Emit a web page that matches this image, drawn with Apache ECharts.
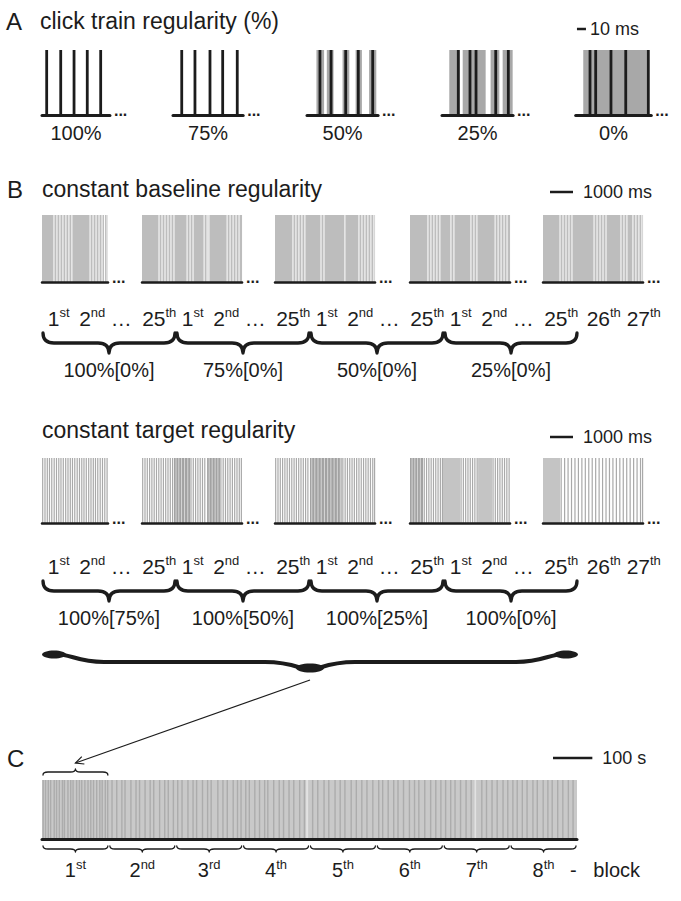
<!DOCTYPE html>
<html>
<head>
<meta charset="utf-8">
<script src="https://cdn.jsdelivr.net/npm/echarts@6/dist/echarts.min.js"></script>
<style>html,body{margin:0;padding:0;background:#fff}#c{width:681px;height:901px}</style>
</head>
<body>
<div id="c"></div>
<script>
// ================= DATA =================
// Panel A – five-click trains (times in ms), grey = jitter windows (ms)
const aLabels = ['100%', '75%', '50%', '25%', '0%'];
const aDurMs = [75.5, 78, 79, 79, 84];
const aClicks100 = [5.2, 20.8, 35.6, 50.3, 65.2];
const aClicks75 = [9.7, 24.4, 41.1, 55.2, 71.4];
const aClicks50 = [14.4, 26.7, 43.0, 57.0, 73.0];
const aClicks25 = [18.1, 31.1, 37.8, 59.7, 73.7];
const aClicks0 = [15.9, 22.2, 39.2, 55.6, 80.7];
const aJitter100 = [];
const aJitter75 = [];
const aJitter50 = [[10.5, 19], [22, 29.5], [39.5, 47], [54, 61], [69, 77]];
const aJitter25 = [[8.1, 20], [23, 48.5], [54, 63.7], [67.4, 78.5]];
const aJitter0 = [[8.4, 80.7]];
const aScaleMs = 10;

// Panel B – trials (ms)
const bTrialDurMs = [2870, 4350, 4350, 4350, 4350];
// constant baseline regularity: white gaps between dense grey clicks (ms)
const bBaseGaps1 = [520, 650, 780, 910, 1040, 1170, 1300, 2090, 2220, 2350, 2480, 2610, 2720, 2830];
const bBaseGaps2 = [740, 870, 1000, 1130, 1260, 1390, 1960, 2090, 2220, 2700, 2830, 2910, 3700, 3830, 3960, 4090, 4220];
const bBaseGaps3 = [780, 910, 1040, 1170, 1300, 2000, 2130, 3040, 3650, 3780, 3910, 4040, 4170, 4300];
const bBaseGaps4 = [780, 910, 1040, 1170, 1300, 1780, 1910, 2650, 2780, 2910, 3700, 3830, 3960, 4090, 4220];
const bBaseGaps5 = [740, 870, 1000, 1130, 1260, 2220, 2350, 2480, 2610, 2740, 3390, 3520, 3650, 3910, 4040, 4170, 4300];
// constant target regularity: single clicks, dense click clusters, merged click regions (ms)
const bTargetClicks1 = [30, 130, 230, 325, 425, 530, 630, 730, 825, 925, 1030, 1130, 1230, 1325, 1425, 1530, 1630, 1730, 1825, 1925, 2030, 2130, 2230, 2325, 2425, 2530, 2630, 2730, 2830];
const bTargetClicks2 = [30, 130, 230, 330, 430, 530, 630, 730, 830, 930, 1030, 1130, 1230, 1330, 2130, 2230, 2330, 2430, 2530, 2630, 2730, 3430, 3530, 3630, 3730, 3830, 3930, 4030, 4130, 4230, 4320];
const bTargetClicks3 = [30, 130, 230, 330, 430, 530, 630, 730, 830, 930, 1030, 1130, 1230, 1330, 1430, 2950, 3050, 3150, 3250, 3350, 3450, 3550, 3650, 3750, 3850, 3950, 4050, 4150, 4250, 4330];
const bTargetClicks4 = [620, 720, 820, 920, 1020, 1120, 1220, 1320, 1410, 2220, 2320, 2420, 2520, 2620, 2720, 2820, 2920, 3610, 3710, 3810, 3910, 4010, 4110, 4210, 4310];
const bTargetClicks5 = [790, 940, 1090, 1240, 1390, 1540, 1690, 1840, 1990, 2140, 2290, 2440, 2590, 2740, 2890, 3040, 3190, 3340, 3490, 3640, 3790, 3940, 4090, 4240, 4330];
const bTargetDense1 = [];
const bTargetDense2 = [[1390, 2090], [2830, 3390]];
const bTargetDense3 = [[1520, 2900]];
const bTargetDense4 = [[0, 565]];
const bTargetDense5 = [];
// small gaps seen inside the dense click clusters (ms)
const bTargetDenseGaps2 = [1480, 1600, 1720, 1850, 1990, 2920, 3050, 3180, 3300];
const bTargetDenseGaps3 = [1600, 1730, 1870, 2010, 2150, 2290, 2430, 2570, 2710, 2840];
const bTargetDenseGaps4 = [90, 210, 330, 450];
const bTargetSolid1 = [];
const bTargetSolid2 = [];
const bTargetSolid3 = [];
const bTargetSolid4 = [[1435, 2175], [2960, 3565]];
const bTargetSolid5 = [[0, 740]];
const bScaleMs = 1000;
// trial labels and groups (group spans in label slots)
const bTrialLabels = ['1st', '2nd', '…', '25th', '1st', '2nd', '…', '25th', '1st', '2nd', '…', '25th', '1st', '2nd', '…', '25th', '26th', '27th'];
const bGroupSpans = [[0, 4], [4, 8], [8, 12], [12, 16]];
const bBaselineGroups = ['100%[0%]', '75%[0%]', '50%[0%]', '25%[0%]'];
const bTargetGroups = ['100%[75%]', '100%[50%]', '100%[25%]', '100%[0%]'];
const bSessionSpan = [0, 16];

// Panel C – session of 8 blocks (s)
const cBlockLabels = ['1st', '2nd', '3rd', '4th', '5th', '6th', '7th', '8th'];
const cBlockDurS = 170;
const cStripesS = [3, 9, 16, 22, 31, 37, 44, 52, 57, 66, 73, 79, 88, 95, 101, 109, 117, 124, 131, 139, 147, 153, 161, 167,
  178, 190, 203, 211, 226, 239, 248, 262, 275, 284, 299, 312, 321, 334,
  345, 356, 371, 384, 393, 408, 421, 430, 447, 460, 471, 486, 497, 506,
  518, 527, 541, 553, 566, 574, 589, 603, 614, 628, 640, 655, 667,
  688, 701, 717, 729, 745, 758, 770, 786, 799, 813, 826, 841,
  856, 866, 880, 894, 905, 919, 934, 947, 958, 973, 988, 1001, 1014,
  1026, 1039, 1050, 1064, 1078, 1091, 1103, 1118, 1130, 1144, 1157, 1172, 1184,
  1197, 1208, 1221, 1233, 1248, 1259, 1274, 1286, 1297, 1311, 1324, 1338, 1350];
const cLightStripesS = [674, 1102];
const cScaleS = 100;

// ================= BUILD =================
const FONT = '"Liberation Sans", Arial, Helvetica, sans-serif';
const INK = '#1c1c1c';
const grids = [], xAxes = [], yAxes = [], series = [], graphics = [];
const addGrid = g => (grids.push(g), grids.length - 1);
const addX = a => (xAxes.push(a), xAxes.length - 1);
const addY = a => (yAxes.push(a), yAxes.length - 1);

function hiddenY(gi) { return { type: 'value', gridIndex: gi, min: 0, max: 1, show: false }; }
function trainX(gi, max, lw, dots) {
  return {
    type: 'value', gridIndex: gi, min: 0, max: max, z: 10,
    axisLine: { show: true, onZero: false, lineStyle: { color: INK, width: lw } },
    axisTick: { show: false }, axisLabel: { show: false }, splitLine: { show: false },
    name: dots ? '...' : '', nameLocation: 'end', nameGap: 4,
    nameTextStyle: { fontSize: 16, fontWeight: 'bold', color: INK, fontFamily: FONT, verticalAlign: 'bottom', lineHeight: 10 }
  };
}
function linesSeries(xi, yi, vals, color, width) {
  return {
    type: 'custom', xAxisIndex: xi, yAxisIndex: yi, silent: true, clip: false,
    data: vals.map(v => [v, 0]), encode: { x: 0, y: 1 },
    renderItem: (params, api) => {
      const x = api.coord([api.value(0), 0])[0];
      const cs = params.coordSys;
      return { type: 'line', shape: { x1: x, y1: cs.y, x2: x, y2: cs.y + cs.height }, style: { stroke: color, lineWidth: width } };
    }
  };
}
function bandsSeries(xi, yi, spans, color) {
  return {
    type: 'custom', xAxisIndex: xi, yAxisIndex: yi, silent: true, clip: false,
    data: spans.map(s => [s[0], s[1], 0]), encode: { x: [0, 1], y: 2 },
    renderItem: (params, api) => {
      const x0 = api.coord([api.value(0), 0])[0], x1 = api.coord([api.value(1), 0])[0];
      const cs = params.coordSys;
      return { type: 'rect', shape: { x: x0, y: cs.y, width: x1 - x0, height: cs.height }, style: { fill: color } };
    }
  };
}
function scaleBarSeries(xi, yi, start, len, label, dy, gap, fs) {
  return {
    type: 'custom', xAxisIndex: xi, yAxisIndex: yi, silent: true, clip: false,
    data: [[start, start + len, 0]], encode: { x: [0, 1], y: 2 },
    renderItem: (params, api) => {
      const x0 = api.coord([api.value(0), 0])[0], x1 = api.coord([api.value(1), 0])[0];
      const y = params.coordSys.y + dy;
      return {
        type: 'group', children: [
          { type: 'line', shape: { x1: x0, y1: y, x2: x1, y2: y }, style: { stroke: INK, lineWidth: 2.5 } },
          { type: 'text', style: { text: label, x: x1 + gap, y: y, align: 'left', verticalAlign: 'middle', fontSize: fs, fontFamily: FONT, fill: INK } }
        ]
      };
    }
  };
}
function bracePath(x0, x1, y0, h, r) {
  const m = (x0 + x1) / 2, yl = y0 + h * 0.5, yt = y0 + h;
  return `M${x0},${y0} Q${x0},${yl} ${x0 + r},${yl} L${m - r},${yl} Q${m},${yl} ${m},${yt} Q${m},${yl} ${m + r},${yl} L${x1 - r},${yl} Q${x1},${yl} ${x1},${y0}`;
}
// anchor: 'top' -> offset from the grid top, 'bottom' -> offset from the grid bottom
function braceSeries(xi, yi, spans, labels, anchor, dy, h, r, lw, labelDy, fs) {
  return {
    type: 'custom', xAxisIndex: xi, yAxisIndex: yi, silent: true, clip: false,
    data: spans.map(s => [s[0], s[1], 0]), encode: { x: [0, 1], y: 2 },
    renderItem: (params, api) => {
      const cs = params.coordSys;
      const x0 = api.coord([api.value(0), 0])[0], x1 = api.coord([api.value(1), 0])[0];
      const y0 = (anchor === 'bottom' ? cs.y + cs.height : cs.y) + dy;
      const kids = [{ type: 'path', shape: { pathData: bracePath(x0 + 1, x1 - 1, y0, h, r) }, style: { fill: 'none', stroke: INK, lineWidth: lw, lineCap: 'round', lineJoin: 'round' } }];
      if (labels) kids.push({ type: 'text', style: { text: labels[params.dataIndex], x: (x0 + x1) / 2, y: cs.y + labelDy, align: 'center', verticalAlign: 'middle', fontSize: fs, fontFamily: FONT, fill: INK } });
      return { type: 'group', children: kids };
    }
  };
}
function bigBraceSeries(xi, yi, span) {
  return {
    type: 'custom', xAxisIndex: xi, yAxisIndex: yi, silent: true, clip: false,
    data: [[span[0], span[1], 0]], encode: { x: [0, 1], y: 2 },
    renderItem: (params, api) => {
      const cs = params.coordSys;
      const x0 = api.coord([api.value(0), 0])[0], x1 = api.coord([api.value(1), 0])[0], m = (x0 + x1) / 2;
      const y0 = cs.y + 76, yl = cs.y + 84, yt = cs.y + 93;
      const p = `M${x0 + 12},${y0} C${x0 + 30},${y0} ${x0 + 34},${yl} ${x0 + 62},${yl} L${m - 45},${yl} C${m - 18},${yl} ${m - 10},${yt - 2} ${m},${yt - 1} C${m + 10},${yt - 2} ${m + 18},${yl} ${m + 45},${yl} L${x1 - 62},${yl} C${x1 - 34},${yl} ${x1 - 30},${y0} ${x1 - 12},${y0}`;
      return {
        type: 'group', children: [
          { type: 'path', shape: { pathData: p }, style: { fill: 'none', stroke: INK, lineWidth: 4.2, lineCap: 'round' } },
          { type: 'ellipse', shape: { cx: x0 + 12, cy: y0 + 0.5, rx: 12, ry: 4 }, style: { fill: INK } },
          { type: 'ellipse', shape: { cx: x1 - 12, cy: y0 + 0.5, rx: 12, ry: 4 }, style: { fill: INK } },
          { type: 'ellipse', shape: { cx: m, cy: yt - 3, rx: 14, ry: 4.6 }, style: { fill: INK } }
        ]
      };
    }
  };
}
// label text offsets (layout only): trailing trial labels pushed right, ellipsis pulled left
function ordRich(v, idx) {
  const m = /^(\d+)(st|nd|rd|th)(.*)$/.exec(v);
  let n = 'n';
  if (idx === 16) n = 'nA';
  if (idx === 17) n = 'nB';
  if (v === '…') n = 'nE';
  if (!m) return '{' + n + '|' + v + '}';
  return '{' + n + '|' + m[1] + '}{s|' + m[2] + '}' + (m[3] ? '{n|' + m[3] + '}' : '');
}
function richOrd(fs, sfs) {
  const base = { fontSize: fs, lineHeight: fs + 3, fontFamily: FONT, color: INK };
  return {
    n: base,
    nA: Object.assign({}, base, { padding: [0, 0, 0, 18] }),
    nB: Object.assign({}, base, { padding: [0, 0, 0, 31] }),
    nE: Object.assign({}, base, { padding: [0, 9, 0, 0] }),
    s: { fontSize: sfs, verticalAlign: 'top', fontFamily: FONT, color: INK }
  };
}
function txt(id, s, x, y, fs, align) {
  return { type: 'text', id: id, x: x, y: y, silent: true, style: { text: s, fontSize: fs, fontFamily: FONT, fill: INK, align: align || 'left', verticalAlign: 'middle' } };
}

// ---- Panel A ----
const aLeft = [42, 173, 307, 442, 575.7];
const A_PX = 0.9;
const aClicksList = [aClicks100, aClicks75, aClicks50, aClicks25, aClicks0];
const aJitterList = [aJitter100, aJitter75, aJitter50, aJitter25, aJitter0];
aLabels.forEach((lab, i) => {
  const w = aDurMs[i] * A_PX;
  const gi = addGrid({ left: aLeft[i], top: 50, width: w, height: 65 });
  const xi = addX(trainX(gi, aDurMs[i], 3, true));
  const yi = addY(hiddenY(gi));
  series.push(bandsSeries(xi, yi, aJitterList[i], '#a8a8a8'));
  series.push(linesSeries(xi, yi, aClicksList[i], INK, 2.8));
  graphics.push(txt('aLab' + i, lab, aLeft[i] + w / 2, 133, 20, 'center'));
  if (i === aLabels.length - 1) series.push(scaleBarSeries(xi, yi, 1.4, aScaleMs, aScaleMs + ' ms', -21, 4, 18));
});

// ---- Panel B ----
const bLeft = [42, 142, 275, 410, 543];
const B_PX = 0.023;
const baseGaps = [bBaseGaps1, bBaseGaps2, bBaseGaps3, bBaseGaps4, bBaseGaps5];
const tClicks = [bTargetClicks1, bTargetClicks2, bTargetClicks3, bTargetClicks4, bTargetClicks5];
const tDense = [bTargetDense1, bTargetDense2, bTargetDense3, bTargetDense4, bTargetDense5];
const tDenseGaps = [[], bTargetDenseGaps2, bTargetDenseGaps3, bTargetDenseGaps4, []];
const tSolid = [bTargetSolid1, bTargetSolid2, bTargetSolid3, bTargetSolid4, bTargetSolid5];
// row 1
bTrialDurMs.forEach((d, i) => {
  const gi = addGrid({ left: bLeft[i], top: 215, width: d * B_PX, height: 67 });
  const xi = addX(trainX(gi, d, 2.5, true));
  const yi = addY(hiddenY(gi));
  series.push(bandsSeries(xi, yi, [[0, d]], '#bdbdbd'));
  series.push(linesSeries(xi, yi, baseGaps[i], '#ffffff', 1));
  if (i === bTrialDurMs.length - 1) series.push(scaleBarSeries(xi, yi, 304, bScaleMs, bScaleMs + ' ms', -23, 10, 18));
});
// row 2
bTrialDurMs.forEach((d, i) => {
  const gi = addGrid({ left: bLeft[i], top: 458, width: d * B_PX, height: 65 });
  const xi = addX(trainX(gi, d, 2.5, true));
  const yi = addY(hiddenY(gi));
  series.push(bandsSeries(xi, yi, tSolid[i], '#c4c4c4'));
  series.push(bandsSeries(xi, yi, tDense[i], '#a2a2a2'));
  series.push(linesSeries(xi, yi, tDenseGaps[i], '#d6d6d6', 1));
  series.push(linesSeries(xi, yi, tClicks[i], '#a9a9a9', 1.2));
  if (i === bTrialDurMs.length - 1) series.push(scaleBarSeries(xi, yi, 304, bScaleMs, bScaleMs + ' ms', -21, 10, 18));
});
// label rows + braces
const bLabelTops = [330, 578];
const bGroupLabelSets = [bBaselineGroups, bTargetGroups];
let bigBraceAxis = -1;
bLabelTops.forEach((top, r) => {
  const gi = addGrid({ left: 42, top: top, width: 603, height: 40 });
  addX({
    type: 'category', gridIndex: gi, data: bTrialLabels, position: 'top', boundaryGap: true,
    axisLine: { show: false }, axisTick: { show: false }, splitLine: { show: false },
    axisLabel: { interval: 0, margin: 0, fontSize: 21, formatter: (v, idx) => ordRich(v, idx), rich: richOrd(21, 13) }
  });
  const xv = addX({ type: 'value', gridIndex: gi, min: 0, max: bTrialLabels.length, show: false });
  const yi = addY(hiddenY(gi));
  series.push(braceSeries(xv, yi, bGroupSpans, bGroupLabelSets[r], 'top', 3, 20, 11, 3.3, 40, 20));
  if (r === 1) { series.push(bigBraceSeries(xv, yi, bSessionSpan)); bigBraceAxis = xv; }
});

// ---- Panel C ----
const cTotalS = cBlockLabels.length * cBlockDurS;
const cGi = addGrid({ left: 42, top: 780, width: 535, height: 66 });
const cX = addX(trainX(cGi, cTotalS, 3, false));
addX({
  type: 'category', gridIndex: cGi, data: cBlockLabels, position: 'bottom', boundaryGap: true,
  axisLine: { show: false }, axisTick: { show: false }, splitLine: { show: false },
  axisLabel: { interval: 0, margin: 19, fontSize: 20, formatter: v => ordRich(v, -1), rich: richOrd(20, 13) },
  name: '-\u00a0\u00a0\u00a0block', nameLocation: 'end', nameGap: -7,
  nameTextStyle: { fontSize: 20, color: INK, fontFamily: FONT, verticalAlign: 'top', lineHeight: 62 }
});
const cY = addY(hiddenY(cGi));
const cBlockSpans = cBlockLabels.map((_, i) => [i * cBlockDurS, (i + 1) * cBlockDurS]);
series.push(bandsSeries(cX, cY, [[0, cTotalS]], '#c9c9c9'));
series.push(linesSeries(cX, cY, cStripesS, '#acacac', 1.4));
series.push(linesSeries(cX, cY, cLightStripesS, '#e2e2e2', 2));
series.push(braceSeries(cX, cY, cBlockSpans, null, 'bottom', 7, 6, 5, 1.3, 0, 0));
series.push(braceSeries(cX, cY, [cBlockSpans[0]], null, 'top', -5, -6, 5, 1.3, 0, 0));
series.push(scaleBarSeries(cX, cY, 1299, cScaleS, cScaleS + ' s', -22, 10, 18));

// ---- titles ----
graphics.push(txt('tA', 'A', 6, 21, 24));
graphics.push(txt('tA2', 'click train regularity (%)', 40, 21, 23));
graphics.push(txt('tB', 'B', 7, 189, 24));
graphics.push(txt('tB2', 'constant baseline regularity', 42, 189, 23));
graphics.push(txt('tB3', 'constant target regularity', 42, 430, 23));
graphics.push(txt('tC', 'C', 7, 758, 24));

const chart = echarts.init(document.getElementById('c'), null, { renderer: 'svg', width: 681, height: 901 });
chart.setOption({
  animation: false,
  backgroundColor: '#ffffff',
  textStyle: { fontFamily: FONT },
  grid: grids, xAxis: xAxes, yAxis: yAxes, series: series, graphic: graphics
});

// arrow from the session brace to the first block of panel C (positions via the axes)
const sx = chart.convertToPixel({ xAxisIndex: bigBraceAxis }, (bSessionSpan[0] + bSessionSpan[1]) / 2);
const ex = chart.convertToPixel({ xAxisIndex: cX }, cBlockDurS / 2);
const sy = 578 + 102, ey = 780 - 17;
const ang = Math.atan2(sy - ey, sx - ex), L = 9, sp = 0.45;
chart.setOption({
  graphic: [
    { type: 'line', id: 'arrowLine', silent: true, shape: { x1: sx, y1: sy, x2: ex, y2: ey }, style: { stroke: INK, lineWidth: 1.2 } },
    { type: 'polyline', id: 'arrowHead', silent: true, shape: { points: [[ex + L * Math.cos(ang - sp), ey + L * Math.sin(ang - sp)], [ex, ey], [ex + L * Math.cos(ang + sp), ey + L * Math.sin(ang + sp)]] }, style: { stroke: INK, lineWidth: 1.2, fill: 'none' } }
  ]
});
</script>
</body>
</html>
